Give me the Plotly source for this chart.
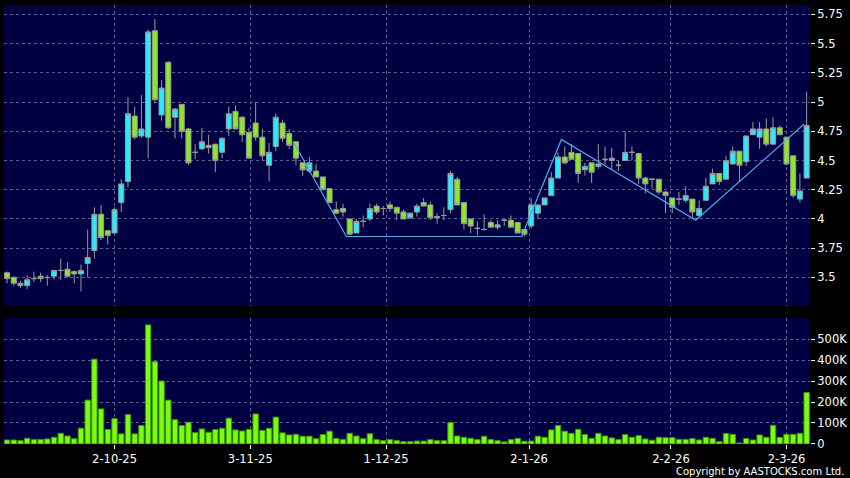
import plotly.graph_objects as go
from plotly.subplots import make_subplots

# daily OHLC, oldest first (120 sessions)
opens = [3.54, 3.50, 3.45, 3.43, 3.49, 3.51, 3.50, 3.51, 3.56, 3.57,
         3.55, 3.53, 3.62, 3.73, 4.04, 3.90, 3.88, 4.14, 4.32, 4.88,
         4.71, 4.70, 5.61, 4.89, 5.34, 4.87, 4.98, 4.77, 4.57, 4.60,
         4.63, 4.64, 4.57, 4.77, 4.92, 4.87, 4.74, 4.82, 4.70, 4.46,
         4.62, 4.82, 4.73, 4.66, 4.48, 4.41, 4.41, 4.36, 4.26, 4.08,
         4.09, 4.00, 3.88, 3.98, 4.00, 4.11, 4.09, 4.12, 4.10, 4.06,
         4.01, 4.06, 4.14, 4.12, 4.01, 4.03, 4.08, 4.34, 4.14, 4.00,
         3.92, 3.91, 3.97, 3.93, 3.99, 3.99, 3.97, 3.91, 3.94, 4.05,
         4.12, 4.20, 4.35, 4.53, 4.57, 4.56, 4.42, 4.48, 4.45, 4.51,
         4.52, 4.46, 4.50, 4.57, 4.56, 4.35, 4.34, 4.34, 4.23, 4.18,
         4.17, 4.16, 4.17, 4.03, 4.16, 4.30, 4.39, 4.34, 4.47, 4.58,
         4.49, 4.72, 4.70, 4.77, 4.64, 4.78, 4.70, 4.54, 4.17, 4.35]
highs = [3.55, 3.51, 3.47, 3.52, 3.55, 3.54, 3.52, 3.56, 3.66, 3.63,
         3.56, 3.61, 3.91, 4.10, 4.12, 3.90, 4.10, 4.34, 5.04, 4.96,
         5.06, 5.62, 5.71, 5.19, 5.35, 4.95, 4.98, 4.78, 4.64, 4.78,
         4.72, 4.64, 4.70, 4.96, 4.97, 4.88, 4.78, 5.00, 4.77, 4.65,
         4.90, 4.85, 4.77, 4.66, 4.48, 4.53, 4.47, 4.36, 4.26, 4.15,
         4.13, 4.00, 4.00, 4.03, 4.13, 4.13, 4.11, 4.15, 4.10, 4.08,
         4.05, 4.13, 4.18, 4.15, 4.05, 4.10, 4.41, 4.36, 4.14, 4.00,
         3.98, 4.04, 3.99, 3.99, 4.00, 4.03, 3.97, 3.91, 4.18, 4.12,
         4.18, 4.40, 4.57, 4.62, 4.64, 4.56, 4.48, 4.48, 4.64, 4.62,
         4.61, 4.50, 4.75, 4.62, 4.56, 4.36, 4.34, 4.34, 4.24, 4.18,
         4.23, 4.28, 4.17, 4.16, 4.35, 4.43, 4.39, 4.54, 4.62, 4.58,
         4.71, 4.83, 4.83, 4.86, 4.87, 4.80, 4.70, 4.54, 4.39, 5.09]
lows = [3.45, 3.43, 3.41, 3.40, 3.46, 3.46, 3.43, 3.48, 3.48, 3.50,
        3.45, 3.38, 3.50, 3.66, 3.82, 3.78, 3.88, 4.06, 4.27, 4.68,
        4.69, 4.52, 4.99, 4.84, 4.77, 4.69, 4.69, 4.46, 4.51, 4.59,
        4.56, 4.40, 4.52, 4.71, 4.77, 4.66, 4.52, 4.67, 4.50, 4.32,
        4.58, 4.66, 4.60, 4.46, 4.37, 4.39, 4.36, 4.25, 4.14, 4.04,
        4.02, 3.86, 3.88, 3.93, 3.98, 4.04, 4.03, 4.06, 3.99, 4.00,
        4.00, 4.02, 4.11, 3.99, 3.96, 3.99, 4.05, 4.12, 3.91, 3.88,
        3.86, 3.90, 3.93, 3.91, 3.94, 3.93, 3.88, 3.85, 3.92, 4.00,
        4.12, 4.20, 4.35, 4.47, 4.51, 4.31, 4.37, 4.31, 4.43, 4.46,
        4.42, 4.41, 4.50, 4.50, 4.30, 4.22, 4.26, 4.21, 4.05, 4.05,
        4.12, 4.14, 4.01, 4.01, 4.16, 4.30, 4.29, 4.34, 4.47, 4.32,
        4.45, 4.72, 4.60, 4.62, 4.64, 4.72, 4.46, 4.18, 4.14, 4.35]
closes = [3.49, 3.45, 3.43, 3.48, 3.49, 3.49, 3.50, 3.56, 3.56, 3.51,
          3.53, 3.56, 3.67, 4.04, 3.84, 3.86, 4.08, 4.30, 4.90, 4.70,
          4.77, 5.60, 5.02, 5.12, 4.78, 4.94, 4.75, 4.48, 4.57, 4.66,
          4.61, 4.50, 4.69, 4.90, 4.77, 4.72, 4.52, 4.70, 4.54, 4.57,
          4.87, 4.69, 4.63, 4.52, 4.42, 4.48, 4.36, 4.25, 4.14, 4.05,
          4.06, 3.87, 3.98, 3.98, 4.09, 4.06, 4.09, 4.09, 4.05, 4.00,
          4.05, 4.11, 4.11, 4.01, 4.02, 4.03, 4.39, 4.12, 3.96, 3.94,
          3.92, 3.91, 3.93, 3.95, 3.99, 3.93, 3.88, 3.87, 4.12, 4.12,
          4.18, 4.35, 4.53, 4.48, 4.51, 4.39, 4.45, 4.40, 4.47, 4.51,
          4.50, 4.46, 4.57, 4.57, 4.35, 4.30, 4.34, 4.23, 4.20, 4.10,
          4.17, 4.20, 4.06, 4.09, 4.28, 4.39, 4.32, 4.50, 4.58, 4.46,
          4.71, 4.77, 4.77, 4.64, 4.78, 4.72, 4.47, 4.20, 4.24, 4.80]
volumes = [19, 19, 16, 27, 21, 21, 24, 32, 51, 38,
           25, 75, 209, 404, 167, 69, 121, 48, 140, 48,
           88, 567, 392, 300, 209, 116, 88, 104, 54, 72,
           56, 69, 75, 123, 67, 62, 70, 143, 65, 75,
           128, 53, 43, 46, 37, 37, 25, 45, 61, 27,
           22, 51, 38, 25, 49, 21, 16, 21, 16, 11,
           11, 14, 14, 21, 16, 16, 102, 38, 32, 27,
           21, 37, 21, 16, 10, 21, 27, 13, 14, 37,
           32, 67, 88, 61, 51, 70, 45, 27, 51, 38,
           29, 21, 45, 32, 40, 24, 18, 32, 30, 30,
           22, 22, 26, 19, 32, 27, 11, 50, 46, 5,
           26, 19, 43, 32, 89, 32, 46, 46, 51, 245]  # thousands of shares

# session index of the month labels
tick_idx = [16, 36.2, 56.4, 77.7, 98.8, 116]
tick_labels = ['2-10-25', '3-11-25', '1-12-25', '2-1-26', '2-2-26', '2-3-26']

# hand drawn trend line (session index, price)
trend_x = [42.6, 50.5, 76.6, 82.5, 102.5, 118.6]
trend_y = [4.66, 3.85, 3.85, 4.68, 3.99, 4.81]

x = list(range(len(opens)))
vol = [v * 1000 for v in volumes]

fig = make_subplots(rows=2, cols=1, shared_xaxes=True)

fig.add_trace(go.Candlestick(
    x=x, open=opens, high=highs, low=lows, close=closes,
    increasing=dict(fillcolor='#26ECFF', line=dict(color='#9A9A9A', width=1)),
    decreasing=dict(fillcolor='#8AEA28', line=dict(color='#9A9A9A', width=1)),
    whiskerwidth=0, showlegend=False, hoverinfo='skip'), row=1, col=1)

fig.add_trace(go.Scatter(
    x=trend_x, y=trend_y, mode='lines',
    line=dict(color='#55A8E6', width=1.2),
    showlegend=False, hoverinfo='skip'), row=1, col=1)

fig.add_trace(go.Bar(
    x=x, y=vol, marker=dict(color='#7CFC10', line=dict(color='#3C9A00', width=1)),
    width=0.8, showlegend=False, hoverinfo='skip'), row=2, col=1)

grid = dict(showgrid=True, gridcolor='#5C5C8C', griddash='3px,3px', gridwidth=1)
tickfont = dict(family='DejaVu Sans', size=11.5, color='white')

fig.update_xaxes(range=[-0.45, 119.5], tickvals=tick_idx, ticktext=tick_labels,
                 zeroline=False, showline=False, rangeslider_visible=False, **grid)
fig.update_xaxes(showticklabels=False, ticks='', row=1, col=1)
fig.update_xaxes(ticks='outside', ticklen=4, tickcolor='white', tickfont=tickfont,
                 row=2, col=1)

fig.update_yaxes(side='right', ticks='outside', ticklen=4, tickcolor='white',
                 tickfont=tickfont, zeroline=False, showline=False, **grid)
fig.update_yaxes(range=[3.256, 5.83], dtick=0.25, tick0=3.5,
                 domain=[0.3144, 1], row=1, col=1)
fig.update_yaxes(range=[0, 600000],
                 tickvals=[0, 100000, 200000, 300000, 400000, 500000],
                 ticktext=['0', '100K', '200K', '300K', '400K', '500K'],
                 domain=[0, 0.287], row=2, col=1)

fig.add_annotation(text='Copyright by AASTOCKS.com Ltd.', xref='paper', yref='paper',
                   x=1.045, y=-0.062, xanchor='right', yanchor='middle', showarrow=False,
                   font=dict(family='DejaVu Sans', size=10, color='white'))

fig.update_layout(
    width=850, height=478,
    margin=dict(l=4, r=40, t=5, b=34),
    paper_bgcolor='black', plot_bgcolor='#000042',
    bargap=0.2, boxgap=0.25, boxgroupgap=0,
)

# the page body has a default 8px margin; drop it so the chart sits at the corner
fig.write_html("out.html", config={'displayModeBar': False},
               post_script="document.body.style.margin='0';")
